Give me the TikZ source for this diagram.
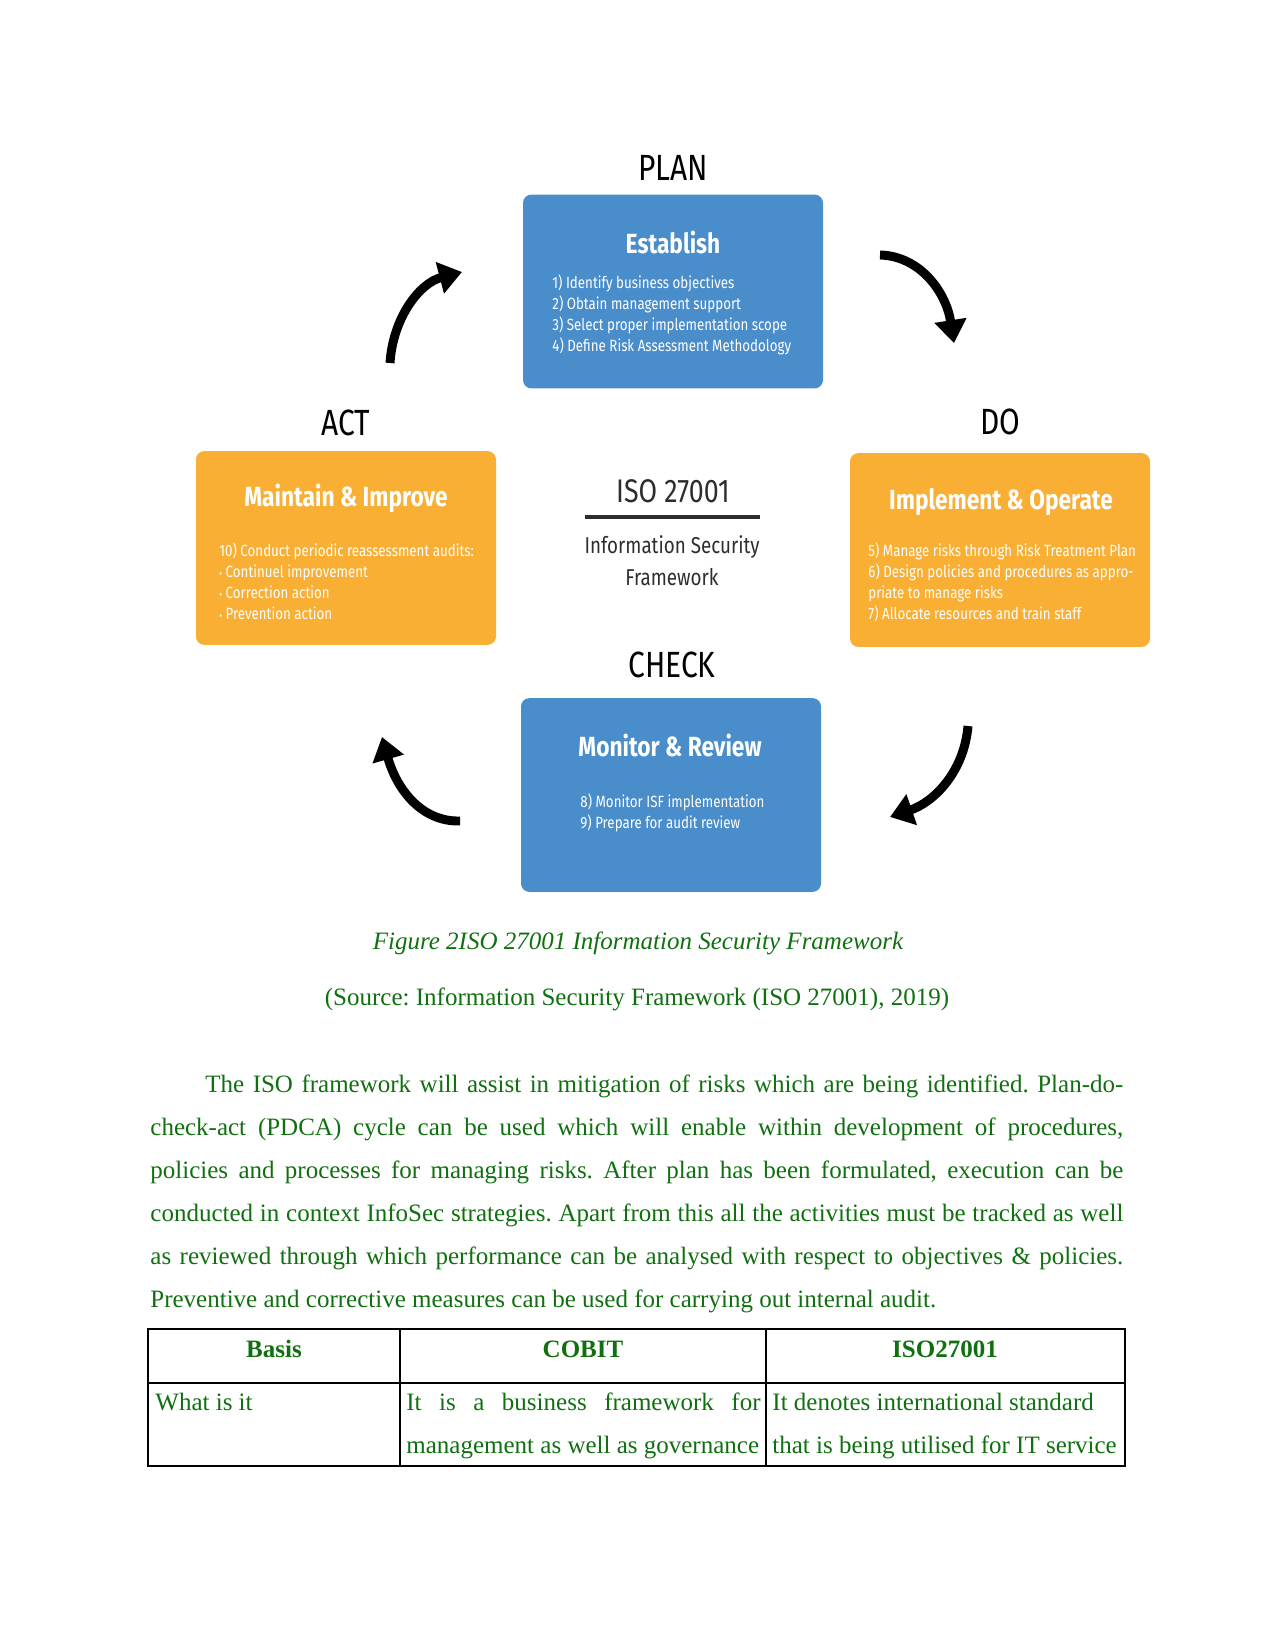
\documentclass[tikz,border=0pt]{standalone}
\usepackage{fontspec}
\setmainfont{Liberation Serif}
\newfontfamily\df[FakeStretch=0.82]{Fira Sans}
\usetikzlibrary{arrows.meta}
\definecolor{boxblue}{RGB}{74,141,203}
\definecolor{boxorange}{RGB}{249,174,52}
\definecolor{txtgreen}{RGB}{16,112,16}
\definecolor{isogray}{RGB}{45,45,45}
\frenchspacing
\begin{document}
\begin{tikzpicture}[x=0.48pt,y=-0.48pt,
  panel/.style={rectangle, rounded corners=4pt, inner sep=0pt, minimum width=144pt, minimum height=93pt},
  ttl/.style={font=\df\bfseries\fontsize{13.3}{16}\selectfont, text=white, inner sep=0pt},
  body/.style={font=\df\fontsize{7.8}{10.1}\selectfont, text=white, align=left, inner sep=0pt, anchor=west},
  lbl/.style={font=\df\fontsize{17.5}{20}\selectfont, text=black, inner sep=0pt},
  arr/.style={line width=4.3pt, -{Triangle[length=11pt,width=15pt]}},
  pg/.style={font=\fontsize{12}{14.4}\selectfont, text=txtgreen, inner sep=0pt},
  tline/.style={line width=0.6pt, black}]
\useasboundingbox (0,0) rectangle (1275,1651);

% labels
\node[lbl] (plan) at (673,168) {PLAN};
\node[lbl] (act) at (346,423) {ACT};
\node[lbl] (do) at (1000,422) {DO};
\node[lbl] (check) at (672,665) {CHECK};

% boxes
\node[panel, fill=boxblue] (est) at (673,291.5) {};
\node[panel, fill=boxorange] (mai) at (346,548) {};
\node[panel, fill=boxorange] (imp) at (1000,550) {};
\node[panel, fill=boxblue] (mon) at (671,795) {};

\node[ttl] (estt) at (673,242) {Establish};
\node[body] (estb) at (552,315) {1) Identify business objectives\\2) Obtain management support\\3) Select proper implementation scope\\4) Define Risk Assessment Methodology};

\node[ttl] (mait) at (346,498) {Maintain \& Improve};
\node[body] (maib) at (219,581) {10) Conduct periodic reassessment audits:\\{\fontsize{5}{5}\selectfont •} Continuel improvement\\{\fontsize{5}{5}\selectfont •} Correction action\\{\fontsize{5}{5}\selectfont •} Prevention action};

\node[ttl] (impt) at (1001,502) {Implement \& Operate};
\node[body] (impb) at (868,582) {5) Manage risks through Risk Treatment Plan\\6) Design policies and procedures as appro-\\priate to manage risks\\7) Allocate resources and train staff};

\node[ttl] (mont) at (670,745) {Monitor \& Review};
\node[body] (monb) at (580,813) {8) Monitor ISF implementation\\9) Prepare for audit review};

% centre
\node[font=\df\fontsize{15.7}{18}\selectfont, text=isogray, inner sep=0pt] (iso) at (673,491) {ISO 27001};
\coordinate (isol) at (585,517);
\coordinate (isor) at (760,517);
\draw[line width=1.9pt, isogray] (isol) -- (isor);
\node[font=\df\fontsize{11}{14}\selectfont, text=isogray, inner sep=0pt] (isf1) at (672,547) {Information Security};
\node[font=\df\fontsize{11}{14}\selectfont, text=isogray, inner sep=0pt] (isf2) at (672,577) {Framework};

% arrows
\coordinate (a1s) at (390,363); \coordinate (a1e) at (462,272);
\draw[arr] (a1s) .. controls (393,317) and (420,283) .. (a1e);
\coordinate (a2s) at (880,255); \coordinate (a2e) at (954,343);
\draw[arr] (a2s) .. controls (920,256) and (946,292) .. (a2e);
\coordinate (a3s) at (968,726); \coordinate (a3e) at (890,817);
\draw[arr] (a3s) .. controls (964,772) and (934,802) .. (a3e);
\coordinate (a4s) at (460,821); \coordinate (a4e) at (382,737);
\draw[arr] (a4s) .. controls (422,822) and (397,790) .. (a4e);

% caption
\node[pg, anchor=base, font=\fontsize{12}{14.4}\selectfont\itshape] (cap) at (638,949) {Figure 2ISO 27001 Information Security Framework};
\node[pg, anchor=base] (src) at (637,1005) {(Source: Information Security Framework (ISO 27001), 2019)};

% paragraph
\node[pg, anchor=base west] (p1) at (205,1092) {\makebox[440.6pt][s]{The ISO framework will assist in mitigation of risks which are being identified. Plan-do-}};
\node[pg, anchor=base west] (p2) at (150,1135) {\makebox[467pt][s]{check-act (PDCA) cycle can be used which will enable within development of procedures,}};
\node[pg, anchor=base west] (p3) at (150,1178) {\makebox[467pt][s]{policies and processes for managing risks. After plan has been formulated, execution can be}};
\node[pg, anchor=base west] (p4) at (150,1221) {\makebox[467pt][s]{conducted in context InfoSec strategies. Apart from this all the activities must be tracked as well}};
\node[pg, anchor=base west] (p5) at (150,1264) {\makebox[467pt][s]{as reviewed through which performance can be analysed with respect to objectives \& policies.}};
\node[pg, anchor=base west] (p6) at (150,1307) {Preventive and corrective measures can be used for carrying out internal audit.};

% table
\draw[tline] (148,1329) rectangle (1125,1466);
\draw[tline] (148,1383) -- (1125,1383);
\draw[tline] (400,1329) -- (400,1466);
\draw[tline] (766,1329) -- (766,1466);
\node[pg, anchor=base, font=\fontsize{12}{14.4}\selectfont\bfseries] (h1) at (274,1357) {Basis};
\node[pg, anchor=base, font=\fontsize{12}{14.4}\selectfont\bfseries] (h2) at (583,1357) {COBIT};
\node[pg, anchor=base, font=\fontsize{12}{14.4}\selectfont\bfseries] (h3) at (945,1357) {ISO27001};
\node[pg, anchor=base west] (c1) at (155,1410) {What is it};
\node[pg, anchor=base west] (c2a) at (406,1410) {\makebox[170pt][s]{It is a business framework for}};
\node[pg, anchor=base west] (c2b) at (406,1453) {management as well as governance};
\node[pg, anchor=base west] (c3a) at (772,1410) {It denotes international standard};
\node[pg, anchor=base west] (c3b) at (772,1453) {that is being utilised for IT service};
\end{tikzpicture}
\end{document}
